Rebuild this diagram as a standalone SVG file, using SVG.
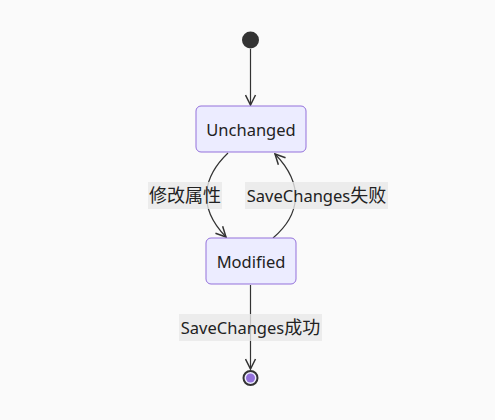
<svg xmlns="http://www.w3.org/2000/svg" width="495" height="420" viewBox="0 0 495 420">
<style>
.node rect{fill:#ECECFF;stroke:#9370DB;stroke-width:1}
.lbl{font-family:"Noto Sans","Noto Sans CJK SC",sans-serif;font-size:16.5px;fill:#222;text-anchor:middle;dominant-baseline:central}
.cjk{font-size:18px}
.edge{fill:none;stroke:#333;stroke-width:1.2}
.lblbg{fill:#e8e8e8;opacity:0.8}
</style>
<defs>
<marker id="arr" viewBox="0 0 12 12" refX="11" refY="6" markerWidth="12" markerHeight="12" markerUnits="userSpaceOnUse" orient="auto">
<path d="M1,1 L11,6 L1,11" fill="none" stroke="#333" stroke-width="1.5"/>
</marker>
</defs>
<rect width="495" height="420" fill="#fafafa"/>
<g id="connectors">
<path class="edge" d="M250.5,49 L250.5,105" marker-end="url(#arr)"/>
<path class="edge" d="M228,153 C205,175 195,205 226,237" marker-end="url(#arr)"/>
<path class="edge" d="M273,238 C300,215 305,185 275,154" marker-end="url(#arr)"/>
<path class="edge" d="M250.5,285 L250.5,369" marker-end="url(#arr)"/>
<rect class="lblbg" x="148" y="182" width="74" height="27"/>
<text class="lbl cjk" x="185" y="195">修改属性</text>
<rect class="lblbg" x="245" y="182" width="143" height="27"/>
<text class="lbl" x="316.5" y="195">SaveChanges<tspan class="cjk">失败</tspan></text>
<rect class="lblbg" x="179" y="314" width="143" height="27"/>
<text class="lbl" x="250.5" y="327">SaveChanges<tspan class="cjk">成功</tspan></text>
</g>
<g id="start">
<circle cx="250.5" cy="40" r="8.5" fill="#333"/>
</g>
<g id="Unchanged" class="node">
<rect x="196" y="106" width="110" height="46" rx="5"/>
<text class="lbl" x="251" y="129">Unchanged</text>
</g>
<g id="Modified" class="node">
<rect x="206" y="238" width="90" height="46" rx="5"/>
<text class="lbl" x="251" y="261">Modified</text>
</g>
<g id="end">
<circle cx="250.5" cy="378" r="7" fill="#ECECFF" stroke="#333" stroke-width="2"/>
<circle cx="250.5" cy="378" r="4.5" fill="#9370DB"/>
</g>
</svg>
